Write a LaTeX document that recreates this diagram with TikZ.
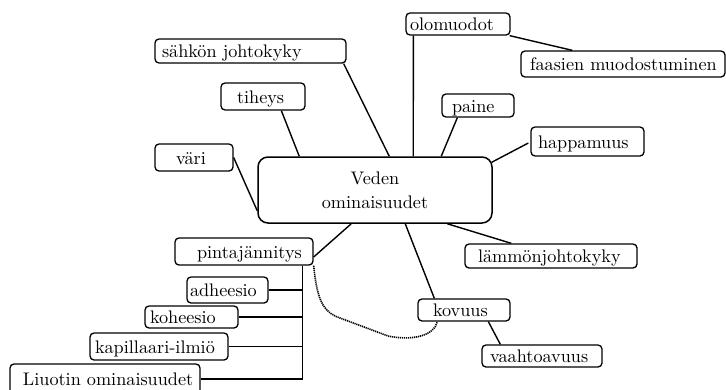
\documentclass[tikz,border=0pt]{standalone}
\usepackage{fontspec}
\setmainfont{lmroman10-regular}[Extension=.otf]
\usetikzlibrary{calc}

% A rounded box given by its corners (x1,y1)-(x2,y2), with the text set #6pt in from the left
\newcommand{\termbox}[7]{%
  \node[termstyle, minimum width={#4-#2}, minimum height={#5-#3}] (#1)
    at ({(#2+#4)/2},{(#3+#5)/2})
    {\makebox[\dimexpr #4pt-#2pt\relax][l]{\hspace*{#6pt}#7}};}

\tikzset{
  termstyle/.style={draw, line width=1.3pt, rounded corners=4pt, inner sep=0pt,
    text height=17pt, text depth=4pt, font=\fontsize{18.2}{24}\selectfont},
  hubstyle/.style={draw, line width=1.5pt, rounded corners=10pt, inner sep=0pt,
    align=center, text width=234pt, minimum height=66pt,
    font=\fontsize{18.2}{24}\selectfont},
  link/.style={line width=1.4pt},
  dotlink/.style={line width=1.6pt, dash pattern=on 1.2pt off 0.8pt}
}

\begin{document}
\begin{tikzpicture}[x=1pt, y=-1pt]
\useasboundingbox (0,0) rectangle (726,389);

% central topic
\node[hubstyle] (veden) at (375,190) {Veden\hspace*{10pt}\\ominaisuudet\hspace*{10pt}};

% surrounding properties
\termbox{sahkon}{155}{39}{346}{63}{7}{sähkön johtokyky}
\termbox{tiheys}{221}{83}{305}{110}{16}{tiheys}
\termbox{olo}{406}{13}{510}{35}{4}{olomuodot}
\termbox{faas}{521}{51}{725}{77}{9}{faasien muodostuminen}
\termbox{paine}{442}{94}{514}{117}{10}{paine}
\termbox{happ}{531}{127}{644}{156}{7}{happamuus}
\termbox{vari}{155}{144}{233}{171}{21}{väri}
\termbox{pinta}{175}{238}{313}{265}{22}{pintajännitys}
\termbox{adh}{187}{277}{268}{303}{3}{adheesio}
\termbox{koh}{145}{306}{238}{328}{5}{koheesio}
\termbox{kap}{90}{333}{228}{360}{5}{kapillaari-ilmiö}
\termbox{liu}{10}{364}{200}{394}{13}{Liuotin ominaisuudet}
\termbox{lamm}{465}{244}{637}{268}{13}{lämmönjohtokyky}
\termbox{kov}{418}{299}{510}{321}{15}{kovuus}
\termbox{vaah}{482}{345}{602}{367}{8}{vaahtoavuus}

% spokes from the central topic
\draw[link] ([xshift=-3pt]sahkon.south east) -- ([xshift=132pt]veden.north west);
\draw[link] ([xshift=8pt]olo.south west) -- ([xshift=156pt]veden.north west);
\draw[link] ([xshift=-1pt]olo.south east) -- ([xshift=52pt]faas.north west);
\draw[link] ([xshift=16pt]paine.south west) -- ([xshift=184pt]veden.north west);
\draw[link] ([xshift=-2pt,yshift=-1.5pt]happ.west) -- ([xshift=-1pt,yshift=-6pt]veden.north east);
\draw[link] ([xshift=61pt]tiheys.south west) -- ([xshift=42pt]veden.north west);
\draw[link] (vari.east) -- ([yshift=13pt]veden.south west);
\draw[link] ([yshift=-5.5pt]pinta.east) -- ([xshift=94pt]veden.south west);
\draw[link] ([xshift=47pt]lamm.north west) -- ([xshift=190pt]veden.south west);
\draw[link] ([xshift=148pt]veden.south west) -- ([xshift=17pt]kov.north west);
\draw[link] ([xshift=71pt]kov.south west) -- ([xshift=19pt]vaah.north west);

% bracket under pintajännitys
\coordinate (trunk) at ([xshift=-11pt]pinta.south east);
\draw[link] (trunk) |- (liu.east);
\draw[link] (adh.east) -- (adh.east -| trunk);
\draw[link] (koh.east) -- (koh.east -| trunk);
\draw[link] (kap.east) -- (kap.east -| trunk);

% dotted link from pintajännitys to kovuus
\draw[dotlink] (pinta.south east) .. controls (317,298) and (322,312) .. (340,318)
  -- (388,336) .. controls (412,341) and (434,336) .. ([xshift=20pt]kov.south west);
\end{tikzpicture}
\end{document}
